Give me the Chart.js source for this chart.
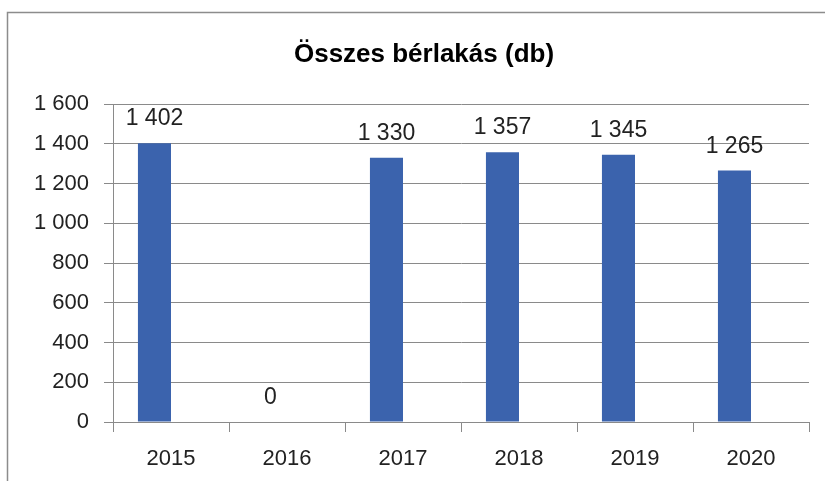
<!DOCTYPE html>
<html>
<head>
<meta charset="utf-8">
<script src="https://cdn.jsdelivr.net/npm/chart.js@4.4.1/dist/chart.umd.min.js"></script>
<style>
  html, body { margin: 0; padding: 0; background: #fff; }
  #wrap { width: 825px; height: 481px; }
</style>
</head>
<body>
<div id="wrap"><canvas id="lakasChart" width="825" height="481"></canvas></div>
<script>
// Data
const years = ['2015', '2016', '2017', '2018', '2019', '2020'];
const berlakas = [1402, 0, 1330, 1357, 1345, 1265];
// the source sheet has a second, empty series next to each bar (that's why bars sit left of centre)
const emptySeries = [null, null, null, null, null, null];
const yTicks = [0, 200, 400, 600, 800, 1000, 1200, 1400, 1600];
const chartTitle = 'Összes bérlakás (db)';

const FONT = "'Liberation Sans', Arial, sans-serif";
const GRID = '#8a8a8a';

// 1402 -> "1 402"
function fmt(v) {
  return String(v).replace(/\B(?=(\d{3})+(?!\d))/g, ' ');
}

// frame, title and value labels
const decorPlugin = {
  id: 'decor',
  beforeDraw(chart) {
    const c = chart.ctx;
    c.save();
    c.strokeStyle = '#8c8c8c';
    c.lineWidth = 1.5;
    c.strokeRect(7.5, 12.5, 1000, 600);
    c.restore();
  },
  afterDatasetsDraw(chart) {
    const c = chart.ctx;
    c.save();
    c.fillStyle = '#000';
    c.font = "bold 26px " + FONT;
    c.textAlign = 'center';
    c.textBaseline = 'alphabetic';
    c.fillText(chartTitle, 424, 62);

    c.font = "23px " + FONT;
    c.fillStyle = '#222';
    chart.getDatasetMeta(0).data.forEach((bar, i) => {
      c.fillText(fmt(berlakas[i]), bar.x, bar.y - 18);
    });
    c.restore();
  }
};

new Chart(document.getElementById('lakasChart'), {
  type: 'bar',
  data: {
    labels: years,
    datasets: [{
      label: chartTitle,
      data: berlakas,
      backgroundColor: '#3b63ad',
      borderWidth: 0,
      barPercentage: 1,
      categoryPercentage: 0.57
    }, {
      label: '',
      data: emptySeries,
      backgroundColor: '#c0504d',
      barPercentage: 1,
      categoryPercentage: 0.57
    }]
  },
  options: {
    responsive: false,
    animation: false,
    layout: { padding: { top: 104, right: 16, left: 0, bottom: 0 } },
    plugins: {
      legend: { display: false },
      title: { display: false },
      tooltip: { enabled: false }
    },
    scales: {
      x: {
        afterFit: s => { s.height = 59; },
        grid: {
          offset: true,
          drawOnChartArea: false,
          drawTicks: true,
          tickLength: 10,
          color: GRID
        },
        border: { color: GRID, width: 1 },
        ticks: {
          color: '#222',
          font: { family: FONT, size: 22 },
          padding: 14
        }
      },
      y: {
        min: 0,
        max: 1600,
        afterFit: s => { s.width = 113; },
        afterBuildTicks: s => { s.ticks = yTicks.map(v => ({ value: v })); },
        grid: {
          color: GRID,
          tickLength: 9
        },
        border: { color: GRID, width: 1 },
        ticks: {
          color: '#222',
          font: { family: FONT, size: 22 },
          padding: 15,
          callback: v => fmt(v)
        }
      }
    }
  },
  plugins: [decorPlugin]
});
</script>
</body>
</html>
